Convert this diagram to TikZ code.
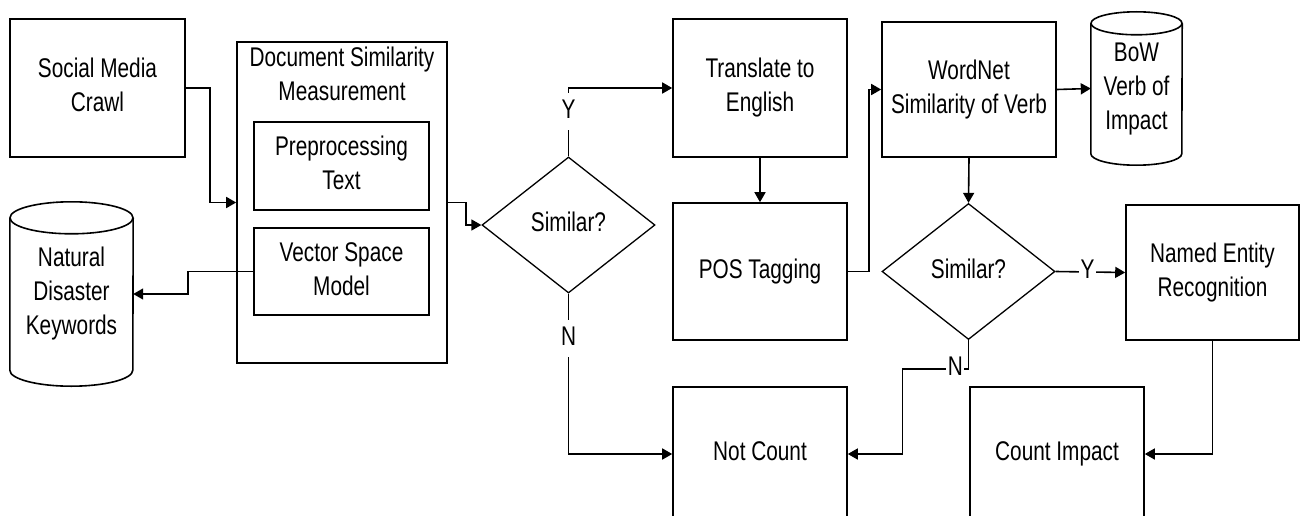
\documentclass[tikz,border=0pt]{standalone}
\usepackage{fontspec}
\setmainfont{Liberation Sans}
\usepackage{graphicx}
\usetikzlibrary{shapes.geometric,arrows.meta,calc}

% condensed, centred multi-line text
\newcommand{\txt}[1]{\scalebox{0.77}[1]{\begin{tabular}{@{}c@{}}#1\end{tabular}}}

% cylinder outline round a body node: #1 node, #2 x radius, #3 y radius
\newcommand{\drawcyl}[3]{%
  \draw[outline] ($(#1.north west)+(0,#3)$) -- ($(#1.south west)+(0,-#3)$)
    arc[start angle=180,end angle=360,x radius=#2pt,y radius=#3pt]
    -- ($(#1.north east)+(0,#3)$);
  \draw[outline] ($(#1.north)+(0,#3)$) ellipse[x radius=#2pt,y radius=#3pt];
}

\tikzset{
  outline/.style={line width=1.6pt},
  box/.style={draw, outline, inner sep=0pt},
  decision/.style={draw, diamond, line width=1.3pt, inner sep=0pt,
    minimum width=173pt, minimum height=136pt},
  body/.style={inner sep=0pt},
  arr/.style={outline, -{Triangle[length=10pt,width=11pt]}},
  lbl/.style={fill=white, inner sep=1.5pt},
}

\begin{document}
\begin{tikzpicture}[x=1pt,y=-1pt,font=\fontsize{27}{34}\selectfont]
\fill[white] (0,0) rectangle (1300,516);
\path[clip] (0,0) rectangle (1300,516);

% left column
\node[box, minimum width=175pt, minimum height=138pt] (smc) at (97.5,88) {\txt{Social Media\\Crawl}};
\node[body, minimum width=123pt, minimum height=184pt] (nd) at (71.5,294) {\txt{Natural\\Disaster\\Keywords}};
\drawcyl{nd}{61.5}{16}

% document similarity block
\node[box, minimum width=210pt, minimum height=321pt] (dsm) at (342,202.5) {};
\node[inner sep=0pt] (dsmt) at (342,77) {\txt{Document Similarity\\Measurement}};
\node[box, minimum width=175pt, minimum height=88pt] (pre) at (341.5,166) {\txt{Preprocessing\\Text}};
\node[box, minimum width=175pt, minimum height=87pt] (vsm) at (341.5,271.5) {\txt{Vector Space\\Model}};

% first decision
\node[decision] (d1) at (568.5,225) {\txt{Similar?}};

% translation column
\node[box, minimum width=174pt, minimum height=138pt] (tr) at (760,88) {\txt{Translate to\\English}};
\node[box, minimum width=174pt, minimum height=137pt] (pos) at (760,271.5) {\txt{POS Tagging}};
\node[box, minimum width=174pt, minimum height=134pt] (nc) at (760,454) {\txt{Not Count}};

% verb similarity column
\node[box, minimum width=174pt, minimum height=135pt] (wn) at (969,89.5) {\txt{WordNet\\Similarity of Verb}};
\node[body, minimum width=91pt, minimum height=153pt] (bow) at (1136.5,88.5) {\txt{BoW\\Verb of\\Impact}};
\drawcyl{bow}{45.5}{11.5}
\node[decision] (d2) at (968.5,271.5) {\txt{Similar?}};
\node[box, minimum width=173pt, minimum height=135pt] (ner) at (1212.5,272.5) {\txt{Named Entity\\Recognition}};
\node[box, minimum width=174pt, minimum height=134pt] (ci) at (1057,454) {\txt{Count Impact}};

% connectors
\draw[arr] (smc.east) -- ++(24,0) |- (dsm.west);
\draw[arr] (vsm.west) -- ++(-65,0) |- (nd.east);
\draw[arr] (dsm.east) -- ++(18,0) |- (d1.west);
\draw[arr] (d1.north) |- node[lbl, pos=0.33] {\txt{Y}} (tr.west);
\draw[arr] (d1.south) |- node[lbl, pos=0.14] {\txt{N}} (nc.west);
\draw[arr] (tr.south) -- (pos.north);
\draw[arr] (pos.east) -- ++(21,0) |- (wn.west);
\draw[arr] (wn.east) -- (bow.west);
\draw[arr] (wn.south) -- (d2.north);
\draw[arr] (d2.east) -- node[lbl, pos=0.46] {\txt{Y}} (ner.west);
\coordinate (nturn) at ($(d2.south)+(0,29)$);
\draw[arr] (d2.south) -- (nturn) -- node[lbl, pos=0.2] {\txt{N}} ++(-66,0) |- (nc.east);
\draw[arr] (ner.south) |- (ci.east);
\end{tikzpicture}
\end{document}
